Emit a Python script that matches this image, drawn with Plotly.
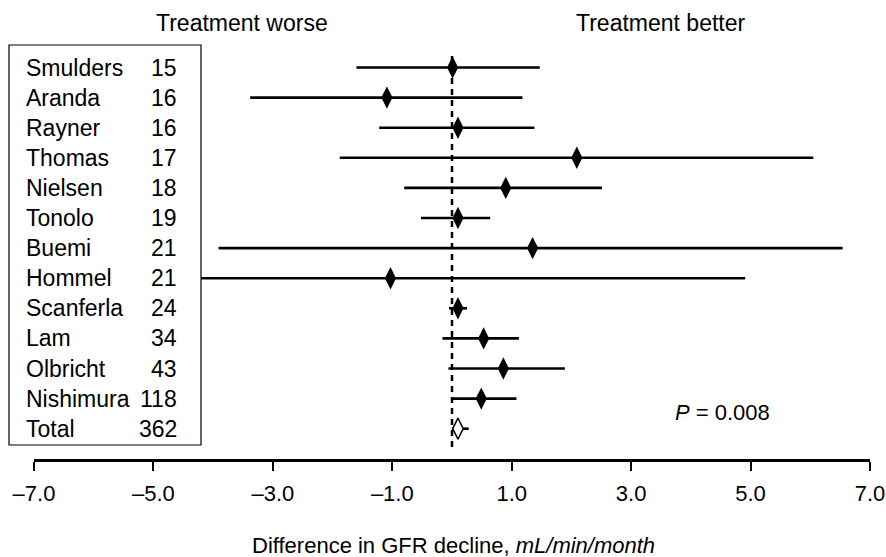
import plotly.graph_objects as go

studies = ["Smulders", "Aranda", "Rayner", "Thomas", "Nielsen", "Tonolo", "Buemi",
           "Hommel", "Scanferla", "Lam", "Olbricht", "Nishimura", "Total"]
n_patients = [15, 16, 16, 17, 18, 19, 21, 21, 24, 34, 43, 118, 362]
estimate = [0.01, -1.09, 0.10, 2.09, 0.90, 0.10, 1.35, -1.03, 0.10, 0.53, 0.86, 0.49, 0.10]
ci_low = [-1.60, -3.38, -1.22, -1.88, -0.80, -0.52, -3.91, -4.30, -0.05, -0.16, -0.06, 0.00, 0.00]
ci_high = [1.47, 1.18, 1.38, 6.05, 2.51, 0.64, 6.54, 4.91, 0.25, 1.12, 1.89, 1.08, 0.28]
tick_vals = [-7, -5, -3, -1, 1, 3, 5, 7]
tick_text = ["\u20137.0", "\u20135.0", "\u20133.0", "\u20131.0", "1.0", "3.0", "5.0", "7.0"]

FONT = "Arial, Liberation Sans, Helvetica, sans-serif"
FS = 23
W, H = 886, 557
L, R, T, B = 34, 16, 40, 98
PW, PH = W - L - R, H - T - B

def px_x(px):
    return (px - L) / PW

def px_y(py):
    return 1 - (py - T) / PH

rows = list(range(len(studies)))
study_rows = rows[:-1]
total_row = rows[-1]

fig = go.Figure()

# study rows: CI lines + filled diamonds
fig.add_trace(go.Scatter(
    x=estimate[:-1], y=study_rows, mode="markers",
    marker=dict(symbol="diamond-tall", size=16, color="black", line=dict(width=0)),
    error_x=dict(type="data", symmetric=False,
                 array=[h - e for h, e in zip(ci_high[:-1], estimate[:-1])],
                 arrayminus=[e - l for l, e in zip(ci_low[:-1], estimate[:-1])],
                 color="black", thickness=2.6, width=0),
    showlegend=False, hoverinfo="skip"))

# total row: open diamond
fig.add_trace(go.Scatter(
    x=[estimate[-1]], y=[total_row], mode="markers",
    marker=dict(symbol="diamond-tall", size=15, color="white", line=dict(width=1.5, color="black")),
    error_x=dict(type="data", symmetric=False,
                 array=[ci_high[-1] - estimate[-1]],
                 arrayminus=[estimate[-1] - ci_low[-1]],
                 color="black", thickness=2.6, width=0),
    showlegend=False, hoverinfo="skip"))

# dashed zero line
fig.add_shape(type="line", xref="x", yref="paper", x0=0, x1=0,
              y0=px_y(447), y1=px_y(51), line=dict(color="black", width=2.5, dash="6px,5px"),
              layer="above")

# study box (covers part of long CI lines)
fig.add_shape(type="rect", xref="paper", yref="paper",
              x0=px_x(9), x1=px_x(201), y0=px_y(445), y1=px_y(45),
              line=dict(color="black", width=1.2), fillcolor="white", layer="above")

annotations = []
for i, (s, n) in enumerate(zip(studies, n_patients)):
    annotations.append(dict(x=px_x(24), y=i, xref="paper", yref="y", text=s,
                            xanchor="left", yanchor="middle", showarrow=False,
                            font=dict(family=FONT, size=FS, color="black")))
    annotations.append(dict(x=px_x(179), y=i, xref="paper", yref="y", text=str(n),
                            xanchor="right", yanchor="middle", showarrow=False,
                            font=dict(family=FONT, size=FS, color="black")))

annotations += [
    dict(x=px_x(242), y=px_y(23), xref="paper", yref="paper", text="Treatment worse",
         xanchor="center", yanchor="middle", showarrow=False,
         font=dict(family=FONT, size=FS, color="black")),
    dict(x=px_x(661), y=px_y(23), xref="paper", yref="paper", text="Treatment better",
         xanchor="center", yanchor="middle", showarrow=False,
         font=dict(family=FONT, size=FS, color="black")),
    dict(x=px_x(722), y=px_y(412), xref="paper", yref="paper", text="<i>P</i> = 0.008",
         xanchor="center", yanchor="middle", showarrow=False,
         font=dict(family=FONT, size=FS - 1, color="black")),
    dict(x=px_x(453), y=px_y(545), xref="paper", yref="paper",
         text="Difference in GFR decline, <i>mL/min/month</i>",
         xanchor="center", yanchor="middle", showarrow=False,
         font=dict(family=FONT, size=FS - 1, color="black")),
]

span = PH / 30.1
top = -27.5 / 30.1
fig.update_layout(
    width=W, height=H,
    margin=dict(l=L, r=R, t=T, b=B, pad=0, autoexpand=False),
    paper_bgcolor="white", plot_bgcolor="white",
    annotations=annotations,
    xaxis=dict(range=[-7, 7], tickvals=tick_vals, ticktext=tick_text,
               showline=True, linecolor="black", linewidth=2.5,
               ticks="outside", ticklen=9, tickwidth=2, tickcolor="black",
               showgrid=False, zeroline=False, automargin=False,
               ticklabelstandoff=4,
               tickfont=dict(family=FONT, size=FS - 1, color="black")),
    yaxis=dict(range=[top + span, top], showgrid=False, zeroline=False,
               showticklabels=False, showline=False, ticks="", automargin=False),
)

fig.write_html("out.html")
